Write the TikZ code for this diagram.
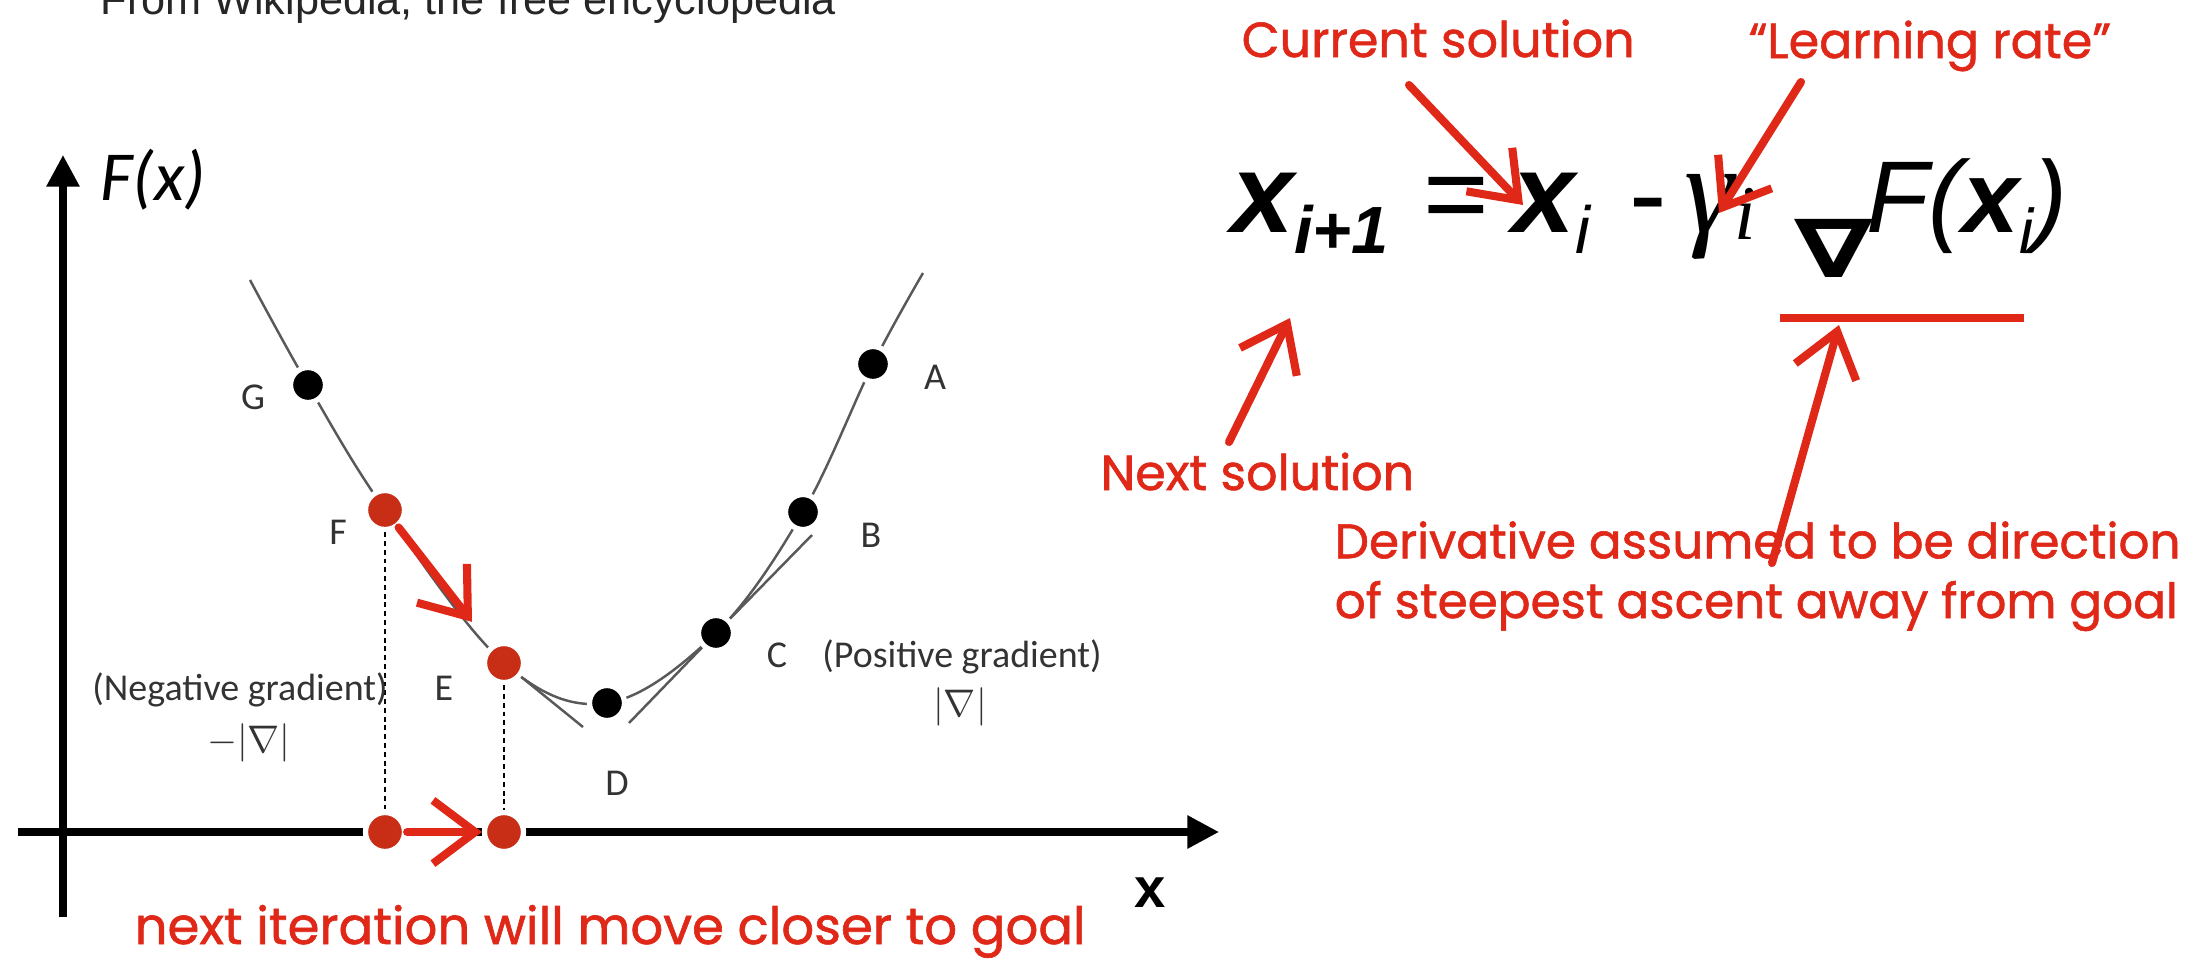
\documentclass[tikz,border=0pt]{standalone}
\usepackage{fontspec}
\setmainfont{Liberation Sans}
\newfontfamily\calib{Carlito}
\newfontfamily\hand[FakeBold=1.2]{Poppins}
\newfontfamily\greek{Liberation Serif}
\newfontfamily\symb{DejaVu Sans}
\usetikzlibrary{arrows.meta}
\definecolor{handred}{RGB}{224,40,24}
\definecolor{dotred}{RGB}{200,46,22}

\begin{document}
\begin{tikzpicture}[
    x=0.1mm, y=-0.1mm,
    axis/.style={line width=2pt, -{Triangle[length=9pt,width=9pt]}},
    curve/.style={draw=black!65, line width=0.7pt},
    drop/.style={line width=0.8pt, dash pattern=on 1.4pt off 1.1pt},
    dot/.style={circle, fill=black, draw=white, line width=1.5pt, minimum size=3.5mm, inner sep=0},
    rdot/.style={dot, fill=dotred, minimum size=3.9mm},
    lbl/.style={font=\calib\fontsize{10.8}{12}\selectfont, text=black!80},
    hand/.style={font=\hand\fontsize{14}{17}\selectfont, text=handred, inner sep=0, anchor=base west, align=left},
    handarrow/.style={draw=handred, line width=2.3pt, line cap=round, -{Straight Barb[length=12pt,width=18pt]}},
    eqn/.style={font=\fontsize{32}{36}\selectfont, inner sep=0, anchor=base west}
]
    \useasboundingbox (0,0) rectangle (2197,963);
    \node[anchor=base west, inner sep=0, text=black!85, font=\fontsize{12.3}{14}\selectfont] (wiki) at (100,14) {From Wikipedia, the free encyclopedia};

    % axes
    \draw[axis] (63,917) -- (63,155);
    \draw[axis] (18,832) -- (1219,832);
    \node[anchor=base west, inner sep=0, font=\calib\itshape\fontsize{20}{24}\selectfont] (fxlbl) at (100,200) {F(x)};
    \node[anchor=base, inner sep=0, font=\bfseries\fontsize{16}{18}\selectfont] (xlbl) at (1150,907) {x};

    % the function
    \draw[curve] plot[smooth, tension=0.6] coordinates {(250,280) (308,385) (385,510) (504,663) (607,703) (716,633) (803,512) (873,364) (923,273)};
    \node[dot] (gdot) at (308,385) {};
    \node[rdot] (fdot) at (385,510) {};
    \node[rdot] (edot) at (504,663) {};
    \node[dot] (ddot) at (607,703) {};
    \node[dot] (cdot) at (716,633) {};
    \node[dot] (bdot) at (803,512) {};
    \node[dot] (adot) at (873,364) {};
    \node[rdot] (fxdot) at (385,832) {};
    \node[rdot] (exdot) at (504,832) {};

    % tangents
    \coordinate (tanE) at (583,727);
    \coordinate (tanC1) at (629,723);
    \coordinate (tanC2) at (812,535);
    \draw[curve] (edot) -- (tanE);
    \draw[curve] (tanC1) -- (cdot);
    \draw[curve] (cdot) -- (tanC2);
    \draw[drop] (fdot) -- (fxdot);
    \draw[drop] (edot) -- (exdot);

    \node[lbl] (glbl) at (253,397) {G};
    \node[lbl] (flbl) at (338,532) {F};
    \node[lbl] (elbl) at (444,688) {E};
    \node[lbl] (dlbl) at (617,783) {D};
    \node[lbl] (clbl) at (777,655) {C};
    \node[lbl] (blbl) at (871,535) {B};
    \node[lbl] (albl) at (935,377) {A};
    \node[lbl] (neg) at (240,690) {(Negative gradient)};
    \node[lbl] (neggrad) at (249,743) {$-|\nabla|$};
    \node[lbl] (pos) at (962,657) {(Positive gradient)};
    \node[lbl] (posgrad) at (960,707) {$|\nabla|$};

    \draw[handarrow, shorten >=3mm] (fdot) -- (edot);
    \draw[handarrow] (fxdot) -- (exdot);
    \node[hand, font=\hand\fontsize{14.6}{17}\selectfont] (iter) at (134,944) {next iteration will move closer to goal};

    % update rule
    \node[eqn] (xnext) at (1231,232) {\bfseries\itshape x\raisebox{-6pt}{\fontsize{19}{19}\selectfont i+1}};
    \node[eqn] (eq) at (1423,232) {=};
    \node[eqn] (xcur) at (1512,232) {\bfseries\itshape x\raisebox{-6pt}{\fontsize{19}{19}\selectfont\mdseries i}};
    \node[eqn] (minus) at (1629,232) {-};
    \node[eqn] (gam) at (1684,232) {\greek\itshape\fontsize{36}{36}\selectfont γ\raisebox{-2pt}{\fontsize{22}{22}\selectfont i}};
    \node[eqn, font=\symb\bfseries\fontsize{23}{23}\selectfont] (nabla) at (1794,277) {\scalebox{1.4}[1]{∇}};
    \node[eqn, font=\fontsize{29}{32}\selectfont] (fofx) at (1866,232) {\itshape F(\textbf{x}\raisebox{-6pt}{\fontsize{18}{18}\selectfont i})};

    % notes
    \node[hand] (cur) at (1241,57) {Current solution};
    \node[hand] (rate) at (1748,58) {“Learning rate”};
    \node[hand] (next) at (1100,490) {Next solution};
    \node[hand, font=\hand\fontsize{13.8}{17}\selectfont] (deriv) at (1334,618) {Derivative assumed to be direction\\of steepest ascent away from goal};
    \coordinate (ul1) at (1780,318);
    \coordinate (ul2) at (2024,318);
    \draw[draw=handred, line width=2.4pt] (ul1) -- (ul2);
    \coordinate (curtail) at (1409,85);
    \coordinate (curtip) at (1523,205);
    \coordinate (ratetail) at (1801,82);
    \coordinate (ratetip) at (1719,213);
    \coordinate (nexttail) at (1229,442);
    \coordinate (nexttip) at (1290,318);
    \coordinate (derivtail) at (1772,563);
    \coordinate (derivtip) at (1839,325);
    \draw[handarrow] (curtail) -- (curtip);
    \draw[handarrow] (ratetail) -- (ratetip);
    \draw[handarrow] (nexttail) -- (nexttip);
    \draw[handarrow] (derivtail) -- (derivtip);
\end{tikzpicture}
\end{document}
